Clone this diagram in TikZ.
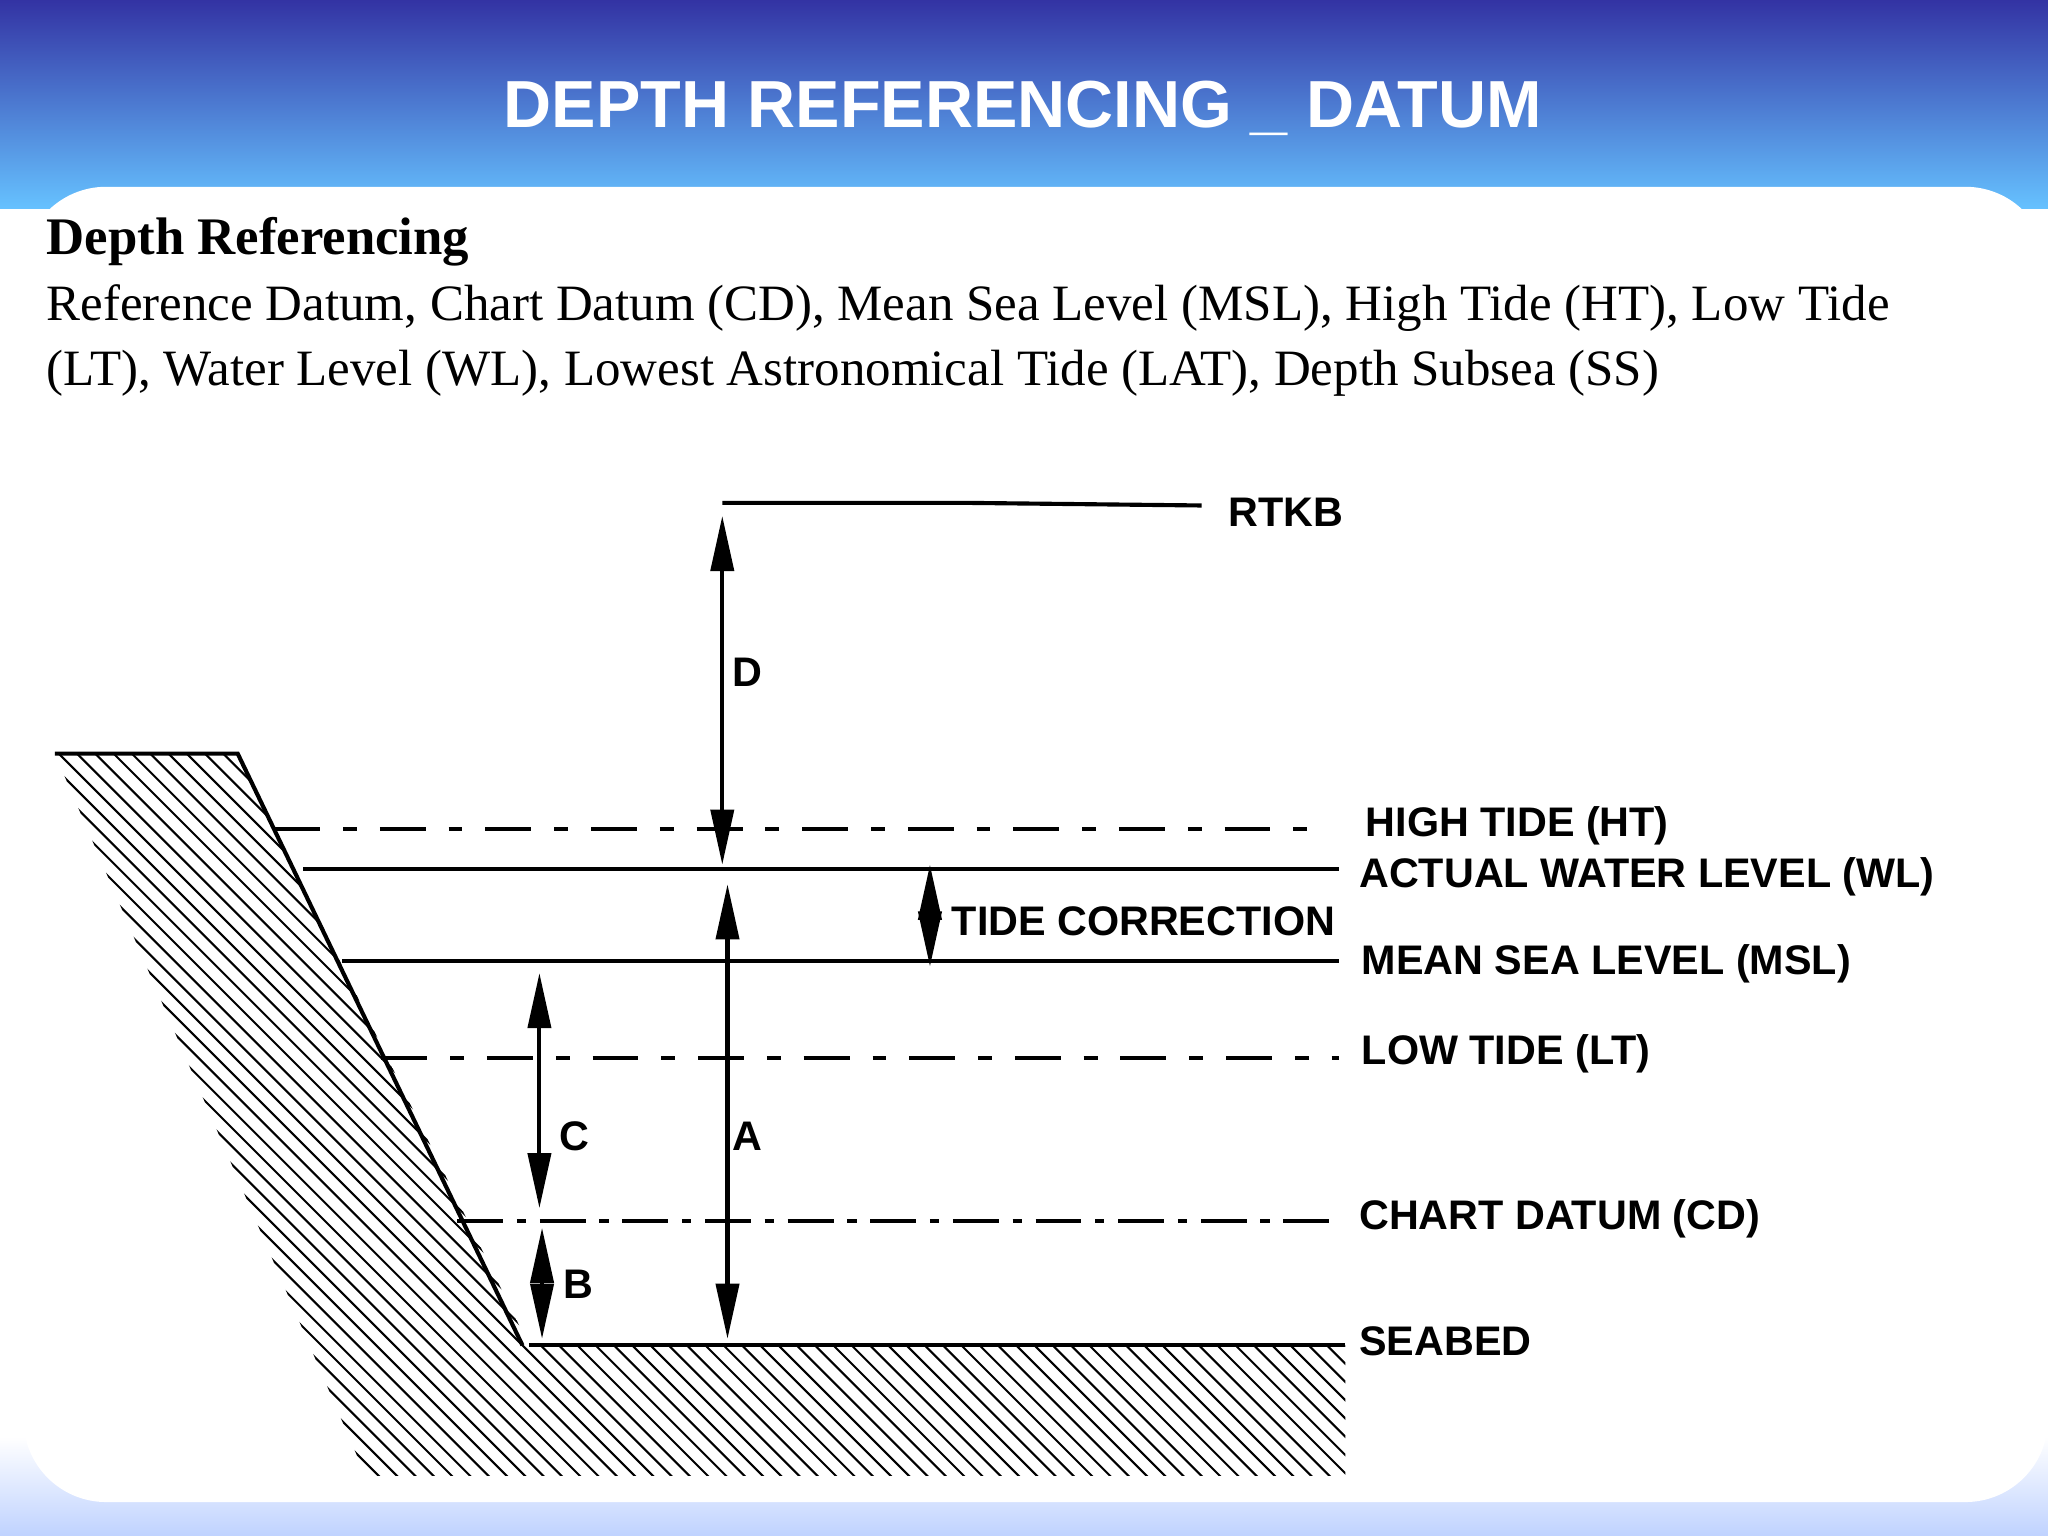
\documentclass[tikz,border=0pt]{standalone}
\usepackage{fontspec}
\setmainfont{Liberation Serif}
\setsansfont{Liberation Sans}
\usetikzlibrary{arrows.meta}
\begin{document}
\begin{tikzpicture}[x=0.1mm,y=-0.1mm,
  lbl/.style={font=\sffamily\bfseries\fontsize{9}{10}\selectfont,anchor=west,inner sep=0},
  dd/.style={line width=0.9pt,dash pattern=on 10pt off 5pt on 3pt off 5pt},
  lv/.style={line width=0.9pt},
  dim/.style={line width=0.9pt,{Triangle[width=5pt,length=12pt]}-{Triangle[width=5pt,length=12pt]}}]
\useasboundingbox (0,0) rectangle (1568,1176);
\shade[top color=blue!55!black!80,bottom color=blue!40!cyan!60] (0,0) rectangle (1568,160);
\shade[top color=white,bottom color=cyan!30!blue!25] (0,1100) rectangle (1568,1176);
\fill[white,rounded corners=18pt] (18,143) rectangle (1568,1150);
\node[white,font=\sffamily\bfseries\fontsize{14.5}{18}\selectfont] (title) at (783,83) {DEPTH REFERENCING \_ DATUM};
\node[anchor=base west,inner sep=0,font=\bfseries\fontsize{11.5}{13}\selectfont] (h) at (35,195) {Depth Referencing};
\node[anchor=north west,inner sep=0,align=left,font=\fontsize{11.1}{14.2}\selectfont] (body) at (35,217) {Reference Datum, Chart Datum (CD), Mean Sea Level (MSL), High Tide (HT), Low Tide\\(LT), Water Level (WL), Lowest Astronomical Tide (LAT), Depth Subsea (SS)};
% hatching
\begin{scope}
\clip (42,577) -- (182,577) -- (405,1030) -- (1030,1030) -- (1030,1130) -- (280,1130) -- cycle;
\foreach \i in {-700,-686,...,1100} \draw[line width=0.45pt] (\i,560) -- (\i+600,1160);
\end{scope}
\draw[lv] (42,577) -- (182,577) -- (400,1030);
% levels
\coordinate (r1) at (553,385); \coordinate (r2) at (920,387);
\draw[lv] (r1) -- (740,385) -- (r2);
\node[lbl] (rtkb) at (940,392) {RTKB};
\draw[dd] (210,635) -- (1015,635); \node[lbl] (ht) at (1045,632) {HIGH TIDE (HT)};
\draw[lv] (232,665) -- (1025,665); \node[lbl] (wl) at (1040,671) {ACTUAL WATER LEVEL (WL)};
\draw[lv] (262,736) -- (1025,736); \node[lbl] (msl) at (1042,738) {MEAN SEA LEVEL (MSL)};
\draw[dd] (292,810) -- (1025,810); \node[lbl] (lt) at (1042,807) {LOW TIDE (LT)};
\draw[line width=0.9pt,dash pattern=on 10pt off 3pt on 2pt off 3pt] (350,935) -- (1025,935); \node[lbl] (cd) at (1040,933) {CHART DATUM (CD)};
\draw[lv] (405,1030) -- (1030,1030); \node[lbl] (sb) at (1040,1027) {SEABED};
% dimensions
\coordinate (d1) at (553,395); \coordinate (d2) at (553,662);
\draw[dim] (d1) -- (d2); \node[lbl] (D) at (560,515) {D};
\coordinate (a1) at (557,677); \coordinate (a2) at (557,1025);
\draw[dim] (a1) -- (a2); \node[lbl] (A) at (560,870) {A};
\coordinate (c1) at (413,745); \coordinate (c2) at (413,925);
\draw[dim] (c1) -- (c2); \node[lbl] (C) at (428,870) {C};
\coordinate (b1) at (415,940); \coordinate (b2) at (415,1025);
\draw[dim] (b1) -- (b2); \node[lbl] (B) at (431,983) {B};
\coordinate (t1) at (712,662); \coordinate (t2) at (712,740);
\draw[dim] (t1) -- (t2); \node[lbl] (tc) at (728,705) {TIDE CORRECTION};
\end{tikzpicture}
\end{document}
